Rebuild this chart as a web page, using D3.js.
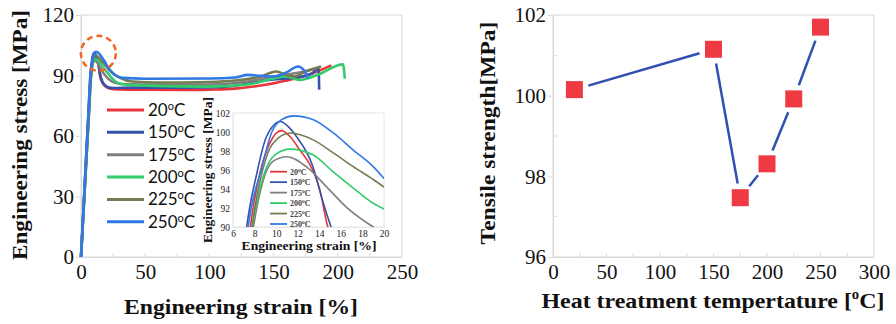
<!DOCTYPE html>
<html><head><meta charset="utf-8">
<script src="https://cdn.jsdelivr.net/npm/d3@7"></script>
<style>body{margin:0;background:#fff}svg{display:block}</style>
</head><body>
<svg id="c" width="896" height="324"></svg>
<script>
// ---------- DATA ----------
const temps = ["20", "150", "175", "200", "225", "250"];
const colors = ["#e9343c", "#3352a8", "#7f7f7f", "#33cc6a", "#737c52", "#2f78e6"];
// stress-strain curves: [strain %, stress MPa]
const curve20 = [[0,0],[2,24],[4,48],[6,72],[7.6,90],[8.5,95.7],[9.4,98.8],[10.5,100.15],[11.3,99.5],[12.2,98.1],[13.3,96.2],[14.06,93.9],[14.7,90.4],[16,87.3],[18,85.2],[22,83.6],[30,83.1],[50,82.9],[80,82.8],[100,83],[120,83.5],[140,85],[160,87.5],[180,91],[195,95]];
const curve150 = [[0,0],[2,25],[4,50],[6,74],[7.27,90],[8.2,95.6],[9.1,99.5],[10.4,101.1],[11.0,100.7],[11.9,99.5],[13.4,96.4],[14.3,92.8],[15.1,90],[16.5,87.2],[18.5,85.3],[21,84.2],[25,83.8],[40,84],[80,84],[110,84.3],[130,86],[150,88],[160,88.5],[170,89.2],[180,91],[185,94],[185.5,83]];
const curve175 = [[0,0],[2,23],[4,46],[6,69],[7.9,90],[8.8,94.9],[9.7,96.9],[10.97,97.4],[12.8,96.35],[14.7,94.2],[16.5,92.1],[19,90],[22,88],[26,86.5],[32,85.8],[60,85.5],[100,85.5],[130,87],[150,89.5],[170,91.5],[183,93.5]];
const curve200 = [[0,0],[2,23],[4,46],[6,69],[7.8,90],[8.8,95.3],[9.9,97.6],[11.3,98.2],[13.4,97.6],[15.3,95.8],[17.15,94.1],[19,92.5],[20,91.9],[23,89.5],[27,87],[33,85.5],[50,85],[100,84.5],[130,85.5],[150,88.5],[160,89.5],[170,87.8],[185,90.5],[204,95.5],[205.5,88.5]];
const curve225 = [[0,0],[2,23],[4,46.5],[6,70],[7.75,90],[8.66,95.6],[9.7,98.8],[11.3,99.9],[13.4,99.2],[15.3,97.8],[17.15,96.35],[19,95],[20,94.2],[24,91.5],[30,89],[40,87],[60,86.5],[100,86.8],[120,87.5],[140,89.5],[152,92],[160,90.3],[166,89.5],[175,92],[187,94.5]];
const curve250 = [[0,0],[2,24.5],[4,49],[6,73],[7.4,90],[8.7,96.4],[9.6,100],[10.5,101.3],[11.6,101.7],[13.45,101.3],[15.3,99.9],[17.15,98.1],[19,96.35],[20,95.1],[23,92.5],[27,90],[32,88.8],[50,88.4],[100,88.5],[120,89],[130,90.3],[140,89.8],[150,89.5],[160,91.5],[169,94.5],[174,92.3],[176.6,88.7]];
const curves = [curve20, curve150, curve175, curve200, curve225, curve250];

const mainXTicks = [0, 50, 100, 150, 200, 250];
const mainYTicks = [0, 30, 60, 90, 120];
const insetXTicks = [6, 8, 10, 12, 14, 16, 18, 20];
const insetYTicks = [90, 92, 94, 96, 98, 100, 102];

// tensile strength vs heat treatment temperature
const treatTemp = [20, 150, 175, 200, 225, 250];
const tensile = [100.15, 101.15, 97.47, 98.31, 99.92, 101.7];
const rightXTicks = [0, 50, 100, 150, 200, 250, 300];
const rightYTicks = [96, 98, 100, 102];

// ---------- DRAW ----------
const svg = d3.select("#c");
const SERIF = "'Liberation Serif', 'Times New Roman', serif";
const SANS = "Lato, 'Liberation Sans', sans-serif";
const FRAME = "#d9d9d9";

function fitText(g, parts, opts) {
  // parts: array of [text, isSup]
  const t = g.append("text").attr("text-anchor", "middle")
    .style("font-family", SERIF).style("font-weight", "bold")
    .style("font-size", opts.size + "px").attr("fill", "#111");
  let raised = false;
  parts.forEach(p => {
    const ts = t.append("tspan").text(p[0]);
    if (p[1]) {
      ts.attr("dy", -opts.size * 0.4).style("font-size", (opts.size * 0.62) + "px");
      raised = true;
    } else if (raised) {
      ts.attr("dy", opts.size * 0.4);
      raised = false;
    }
  });
  const w = t.node().getBBox().width;
  const s = opts.width / w;
  t.attr("transform", `translate(${opts.x},${opts.y}) rotate(${opts.rot || 0}) scale(${s},1)`);
  return t;
}

// ===== LEFT CHART =====
const x = d3.scaleLinear([0, 250], [81, 402]);
const y = d3.scaleLinear([0, 120], [257, 15]);
const L = svg.append("g");
L.append("rect").attr("x", x(0)).attr("y", y(120)).attr("width", x(250) - x(0)).attr("height", y(0) - y(120))
  .attr("fill", "none").attr("stroke", FRAME);
L.append("g").selectAll("line").data(d3.range(25, 250, 25)).join("line")
  .attr("x1", d => x(d)).attr("x2", d => x(d)).attr("y1", y(0)).attr("y2", y(0) - 4).attr("stroke", FRAME);
const gx = L.append("g").attr("transform", `translate(0,${y(0)})`)
  .call(d3.axisBottom(x).tickValues(mainXTicks).tickSize(0).tickPadding(7).tickFormat(d3.format("d")));
const gy = L.append("g").attr("transform", `translate(${x(0)},0)`)
  .call(d3.axisLeft(y).tickValues(mainYTicks).tickSize(5).tickPadding(2).tickFormat(d3.format("d")));
[gx, gy].forEach(g => {
  g.select(".domain").attr("stroke", FRAME);
  g.selectAll(".tick line").attr("stroke", FRAME);
  g.selectAll("text").style("font-family", SERIF).style("font-size", "21px").attr("fill", "#111");
});

const line = d3.line().x(d => x(d[0])).y(d => y(d[1])).curve(d3.curveMonotoneX);
L.append("g").selectAll("path").data(curves).join("path")
  .attr("d", line).attr("fill", "none").attr("stroke", (d, i) => colors[i])
  .attr("stroke-width", 2.6).attr("stroke-linejoin", "round");

// dashed highlight circle around peaks
L.append("circle").attr("cx", x(13.5)).attr("cy", y(101)).attr("r", 17.5)
  .attr("fill", "none").attr("stroke", "#f26522").attr("stroke-width", 2.5).attr("stroke-dasharray", "6 4");

// legend
const leg = L.append("g");
temps.forEach((t, i) => {
  const yy = 110 + i * 22.35;
  leg.append("line").attr("x1", 107).attr("x2", 144).attr("y1", yy).attr("y2", yy)
    .attr("stroke", colors[i]).attr("stroke-width", 3);
  const tx = leg.append("text").attr("x", 148).attr("y", yy + 6)
    .style("font-family", SANS).style("font-size", "17px").attr("fill", "#111");
  tx.append("tspan").text(t);
  tx.append("tspan").text("o").attr("dy", -6).style("font-size", "11px");
  tx.append("tspan").text("C").attr("dy", 6);
});

fitText(L, [["Engineering strain [%]"]], {size: 22, width: 234, x: 241, y: 314});
fitText(L, [["Engineering stress [MPa]"]], {size: 22, width: 250, x: 27, y: 135, rot: -90});

// ===== INSET =====
const ix = d3.scaleLinear([6, 20], [233, 384]);
const iy = d3.scaleLinear([90, 102], [227, 113]);
const I = svg.append("g");
I.append("rect").attr("x", ix(6)).attr("y", iy(102)).attr("width", ix(20) - ix(6)).attr("height", iy(90) - iy(102))
  .attr("fill", "#fff").attr("stroke", "#e6e6e6");
I.append("clipPath").attr("id", "ic").append("rect")
  .attr("x", ix(6)).attr("y", iy(102)).attr("width", ix(20) - ix(6)).attr("height", iy(90) - iy(102));
const ilin = d3.line().x(d => ix(d[0])).y(d => iy(d[1])).curve(d3.curveMonotoneX);
I.append("g").attr("clip-path", "url(#ic)").selectAll("path").data(curves).join("path")
  .attr("d", d => ilin(d.filter(p => p[0] >= 5 && p[0] <= 22)))
  .attr("fill", "none").attr("stroke", (d, i) => colors[i]).attr("stroke-width", 1.6);
const igx = I.append("g").attr("transform", `translate(0,${iy(90)})`)
  .call(d3.axisBottom(ix).tickValues(insetXTicks).tickSize(0).tickPadding(3));
const igy = I.append("g").attr("transform", `translate(${ix(6)},0)`)
  .call(d3.axisLeft(iy).tickValues(insetYTicks).tickSize(0).tickPadding(3));
[igx, igy].forEach(g => {
  g.select(".domain").attr("stroke", "#e6e6e6");
  g.selectAll("text").style("font-family", SERIF).style("font-size", "9.5px").attr("fill", "#222");
});
temps.forEach((t, i) => {
  const yy = 171.7 + i * 10.46;
  I.append("line").attr("x1", 270).attr("x2", 287).attr("y1", yy).attr("y2", yy)
    .attr("stroke", colors[i]).attr("stroke-width", 1.8);
  const tx = I.append("text").attr("x", 290).attr("y", yy + 3)
    .style("font-family", SERIF).style("font-size", "8px").style("font-weight", "bold").attr("fill", "#444");
  tx.append("tspan").text(t);
  tx.append("tspan").text("o").attr("dy", -3).style("font-size", "5.5px");
  tx.append("tspan").text("C").attr("dy", 3);
});
fitText(I, [["Engineering strain [%]"]], {size: 12.5, width: 135, x: 309, y: 250});
fitText(I, [["Engineering stress [MPa]"]], {size: 12.5, width: 146, x: 212, y: 170, rot: -90});

// ===== RIGHT CHART =====
const rx = d3.scaleLinear([0, 300], [553, 874]);
const ry = d3.scaleLinear([96, 102], [257, 15]);
const R = svg.append("g");
R.append("rect").attr("x", rx(0)).attr("y", ry(102)).attr("width", rx(300) - rx(0)).attr("height", ry(96) - ry(102))
  .attr("fill", "none").attr("stroke", FRAME);
R.append("g").selectAll("line").data(d3.range(25, 300, 25)).join("line")
  .attr("x1", d => rx(d)).attr("x2", d => rx(d)).attr("y1", ry(96)).attr("y2", ry(96) - 4).attr("stroke", FRAME);
R.append("g").selectAll("line").data([97, 99, 101]).join("line")
  .attr("x1", rx(0)).attr("x2", rx(0) + 4).attr("y1", d => ry(d)).attr("y2", d => ry(d)).attr("stroke", FRAME);
const rgx = R.append("g").attr("transform", `translate(0,${ry(96)})`)
  .call(d3.axisBottom(rx).tickValues(rightXTicks).tickSize(0).tickPadding(7).tickFormat(d3.format("d")));
const rgy = R.append("g").attr("transform", `translate(${rx(0)},0)`)
  .call(d3.axisLeft(ry).tickValues(rightYTicks).tickSize(5).tickPadding(2).tickFormat(d3.format("d")));
[rgx, rgy].forEach(g => {
  g.select(".domain").attr("stroke", FRAME);
  g.selectAll(".tick line").attr("stroke", FRAME);
  g.selectAll("text").style("font-family", SERIF).style("font-size", "21px").attr("fill", "#111");
});
const pts = treatTemp.map((t, i) => [rx(t), ry(tensile[i])]);
const gap = 14.5;
const segs = d3.pairs(pts).map(([a, b]) => {
  const dx = b[0] - a[0], dy = b[1] - a[1], len = Math.hypot(dx, dy);
  const ux = dx / len, uy = dy / len;
  return [a[0] + ux * gap, a[1] + uy * gap, b[0] - ux * gap, b[1] - uy * gap];
});
R.append("g").selectAll("line").data(segs).join("line")
  .attr("x1", d => d[0]).attr("y1", d => d[1]).attr("x2", d => d[2]).attr("y2", d => d[3])
  .attr("stroke", "#3050b0").attr("stroke-width", 2.5);
const ms = 17;
R.append("g").selectAll("rect").data(treatTemp).join("rect")
  .attr("x", (d, i) => rx(d) - ms / 2).attr("y", (d, i) => ry(tensile[i]) - ms / 2)
  .attr("width", ms).attr("height", ms).attr("fill", "#ee3a42");

fitText(R, [["Heat treatment tempertature ["], ["o", true], ["C]"]], {size: 22, width: 343, x: 713, y: 308});
fitText(R, [["Tensile strength[MPa]"]], {size: 22, width: 223, x: 495, y: 133, rot: -90});
</script>
</body></html>
